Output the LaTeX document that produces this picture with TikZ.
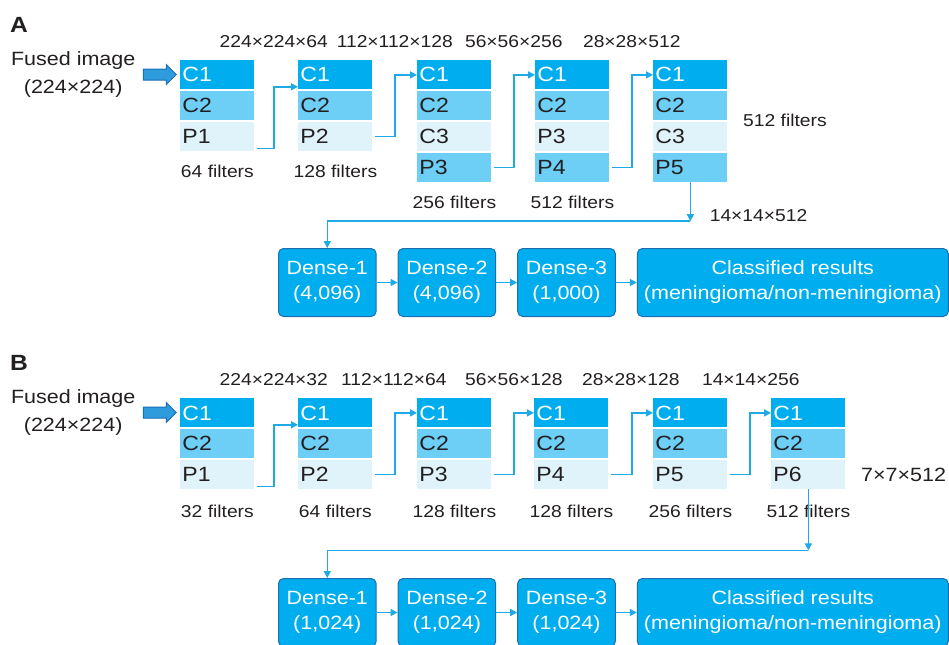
\documentclass[tikz,border=0pt]{standalone}
\usepackage{fontspec}
\setmainfont{Liberation Sans}[FakeStretch=1.12]
\usepackage{tikz}
\usetikzlibrary{
  shapes.arrows,
  arrows.meta,
  positioning
}
\definecolor{rowdark}{RGB}{0,174,239}
\definecolor{rowmid}{RGB}{109,207,246}
\definecolor{rowlight}{RGB}{224,243,251}
\definecolor{densebd}{RGB}{30,110,180}
\definecolor{linkblue}{RGB}{30,170,230}
\definecolor{arrowfill}{RGB}{46,155,220}
\definecolor{arrowbd}{RGB}{27,111,184}
\definecolor{textgray}{RGB}{35,31,32}

\newcommand{\blockfont}{\fontsize{10.3}{12}\selectfont}
\newcommand{\dimfont}{\fontsize{8.6}{10}\selectfont}
\newcommand{\densefont}{\fontsize{9.6}{12.5}\selectfont}
\newcommand{\inputfont}{\fontsize{9.6}{14}\selectfont}
\newcommand{\panelfont}{\fontsize{11}{13}\selectfont\bfseries}

\tikzset{
  link/.style     = {-{Triangle[length=3.5pt, width=3.5pt]}, line width=0.75pt,
                     draw=linkblue},
  convrow/.style  = {text width=35pt, inner xsep=1pt, inner ysep=0pt,
                     minimum height=14.5pt, align=left, font=\blockfont},
  crow/.style     = {convrow, fill=rowdark, text=white},
  mrow/.style     = {convrow, fill=rowmid, text=textgray},
  lrow/.style     = {convrow, fill=rowlight, text=textgray},
  dimlabel/.style = {inner sep=0pt, font=\dimfont, text=textgray},
  dense/.style    = {draw=densebd, fill=rowdark, rounded corners=2.5pt,
                     line width=0.5pt, minimum width=48.8pt,
                     minimum height=34pt, align=center, text=white,
                     font=\densefont},
  inarrow/.style  = {single arrow, draw=arrowbd, fill=arrowfill,
                     line width=0.5pt, inner sep=2.5pt,
                     single arrow head extend=2.25pt, minimum height=16.5pt},
  panel/.style    = {inner sep=0pt, font=\panelfont, text=textgray},
}

\begin{document}
\begin{tikzpicture}[x=0.5pt, y=-0.5pt]
\useasboundingbox (0,0) rectangle (949,644);

% ========== A: VGG-16 ==========
\node[panel] (atitle) at (19,25) {A};
\node[inarrow] (ain) at (157,74.5) {};
\node[dimlabel, font=\inputfont, align=center, left=3.5pt of ain] (afused)
  {Fused image\\(224×224)};

\node[crow, anchor=north west] (a1c1) at (180,60) {C1};
\node[mrow, below=0.5pt of a1c1] (a1c2) {C2};
\node[lrow, below=0.5pt of a1c2] (a1p) {P1};

\node[crow, anchor=north west] (a2c1) at (298,60) {C1};
\node[mrow, below=0.5pt of a2c1] (a2c2) {C2};
\node[lrow, below=0.5pt of a2c2] (a2p) {P2};

\node[crow, anchor=north west] (a3c1) at (417,60) {C1};
\node[mrow, below=0.5pt of a3c1] (a3c2) {C2};
\node[lrow, below=0.5pt of a3c2] (a3c3) {C3};
\node[mrow, below=0.5pt of a3c3] (a3p) {P3};

\node[crow, anchor=north west] (a4c1) at (535,60) {C1};
\node[mrow, below=0.5pt of a4c1] (a4c2) {C2};
\node[lrow, below=0.5pt of a4c2] (a4c3) {P3};
\node[mrow, below=0.5pt of a4c3] (a4p) {P4};

\node[crow, anchor=north west] (a5c1) at (653,60) {C1};
\node[mrow, below=0.5pt of a5c1] (a5c2) {C2};
\node[lrow, below=0.5pt of a5c2] (a5c3) {C3};
\node[mrow, below=0.5pt of a5c3] (a5p) {P5};

\node[dimlabel, above=6pt of a1c1.north east, xshift=9.5pt] {224×224×64};
\node[dimlabel, above=6pt of a2c1.north east, xshift=11pt] {112×112×128};
\node[dimlabel, above=6pt of a3c1.north east, xshift=11pt] {56×56×256};
\node[dimlabel, above=6pt of a4c1.north east, xshift=11pt] {28×28×512};

\node[dimlabel, below=6.8pt of a1p] {64 filters};
\node[dimlabel, below=6.8pt of a2p] {128 filters};
\node[dimlabel, below=6.8pt of a3p] {256 filters};
\node[dimlabel, below=6.8pt of a4p] {512 filters};
\node[dimlabel, right=7.5pt of a5c2.south east] {512 filters};

\draw[link] ([xshift=1pt, yshift=1.5pt]a1p.south east) -- ++(8.5pt,0)
  |- ([yshift=1.5pt]a2c1.south west);
\draw[link] ([xshift=1pt]a2p.east) -- ++(10.2pt,0) |- (a3c1.west);
\draw[link] ([xshift=1pt]a3p.east) -- ++(10.2pt,0) |- (a4c1.west);
\draw[link] ([xshift=1pt]a4p.east) -- ++(10.2pt,0) |- (a5c1.west);

\node[dense, anchor=north west] (ad1) at (278,248) {Dense-1\\(4,096)};
\node[dense, right=10.5pt of ad1] (ad2) {Dense-2\\(4,096)};
\node[dense, right=10.5pt of ad2] (ad3) {Dense-3\\(1,000)};
\node[dense, right=10.5pt of ad3, minimum width=153.8pt] (aout)
  {Classified results\\(meningioma/non-meningioma)};

\coordinate (aturn) at ([yshift=-19.5pt]a5p.south);
\draw[link] (a5p.south) -- (aturn);
\draw[link] (aturn) -| (ad1.north);
\node[dimlabel, right=9.5pt of aturn, yshift=3pt] {14×14×512};

\draw[link] (ad1) -- (ad2);
\draw[link] (ad2) -- (ad3);
\draw[link] (ad3) -- (aout);

% ========== B: VGG-like ==========
\node[panel] (btitle) at (19,363) {B};
\node[inarrow] (bin) at (157,412.5) {};
\node[dimlabel, font=\inputfont, align=center, left=3.5pt of bin] (bfused)
  {Fused image\\(224×224)};

\node[crow, anchor=north west] (b1c1) at (180,398) {C1};
\node[mrow, below=0.5pt of b1c1] (b1c2) {C2};
\node[lrow, below=0.5pt of b1c2] (b1p) {P1};

\node[crow, anchor=north west] (b2c1) at (298,398) {C1};
\node[mrow, below=0.5pt of b2c1] (b2c2) {C2};
\node[lrow, below=0.5pt of b2c2] (b2p) {P2};

\node[crow, anchor=north west] (b3c1) at (417,398) {C1};
\node[mrow, below=0.5pt of b3c1] (b3c2) {C2};
\node[lrow, below=0.5pt of b3c2] (b3p) {P3};

\node[crow, anchor=north west] (b4c1) at (534,398) {C1};
\node[mrow, below=0.5pt of b4c1] (b4c2) {C2};
\node[lrow, below=0.5pt of b4c2] (b4p) {P4};

\node[crow, anchor=north west] (b5c1) at (653,398) {C1};
\node[mrow, below=0.5pt of b5c1] (b5c2) {C2};
\node[lrow, below=0.5pt of b5c2] (b5p) {P5};

\node[crow, anchor=north west] (b6c1) at (771,398) {C1};
\node[mrow, below=0.5pt of b6c1] (b6c2) {C2};
\node[lrow, below=0.5pt of b6c2] (b6p) {P6};

\node[dimlabel, above=6pt of b1c1.north east, xshift=9.5pt] {224×224×32};
\node[dimlabel, above=6pt of b2c1.north east, xshift=10.5pt] {112×112×64};
\node[dimlabel, above=6pt of b3c1.north east, xshift=11pt] {56×56×128};
\node[dimlabel, above=6pt of b4c1.north east, xshift=11pt] {28×28×128};
\node[dimlabel, above=6pt of b5c1.north east, xshift=11.5pt] {14×14×256};

\node[dimlabel, below=7.4pt of b1p] {32 filters};
\node[dimlabel, below=7.4pt of b2p] {64 filters};
\node[dimlabel, below=7.4pt of b3p] {128 filters};
\node[dimlabel, below=7.4pt of b4p] {128 filters};
\node[dimlabel, below=7.4pt of b5p] {256 filters};
\node[dimlabel, below=7.4pt of b6p] {512 filters};
\node[dimlabel, font=\inputfont, right=7.5pt of b6p] {7×7×512};

\draw[link] ([xshift=1pt, yshift=1.5pt]b1p.south east) -- ++(8.5pt,0)
  |- ([yshift=1.5pt]b2c1.south west);
\draw[link] ([xshift=1pt]b2p.east) -- ++(10.2pt,0) |- (b3c1.west);
\draw[link] ([xshift=1pt]b3p.east) -- ++(10.2pt,0) |- (b4c1.west);
\draw[link] ([xshift=1pt]b4p.east) -- ++(10.7pt,0) |- (b5c1.west);
\draw[link] ([xshift=1pt]b5p.east) -- ++(10.2pt,0) |- (b6c1.west);

\node[dense, anchor=north west] (bd1) at (278,578) {Dense-1\\(1,024)};
\node[dense, right=10.5pt of bd1] (bd2) {Dense-2\\(1,024)};
\node[dense, right=10.5pt of bd2] (bd3) {Dense-3\\(1,024)};
\node[dense, right=10.5pt of bd3, minimum width=153.8pt] (bout)
  {Classified results\\(meningioma/non-meningioma)};

\coordinate (bturn) at ([yshift=-30.5pt]b6p.south);
\draw[link] (b6p.south) -- (bturn);
\draw[link] (bturn) -| (bd1.north);

\draw[link] (bd1) -- (bd2);
\draw[link] (bd2) -- (bd3);
\draw[link] (bd3) -- (bout);

\end{tikzpicture}
\end{document}
